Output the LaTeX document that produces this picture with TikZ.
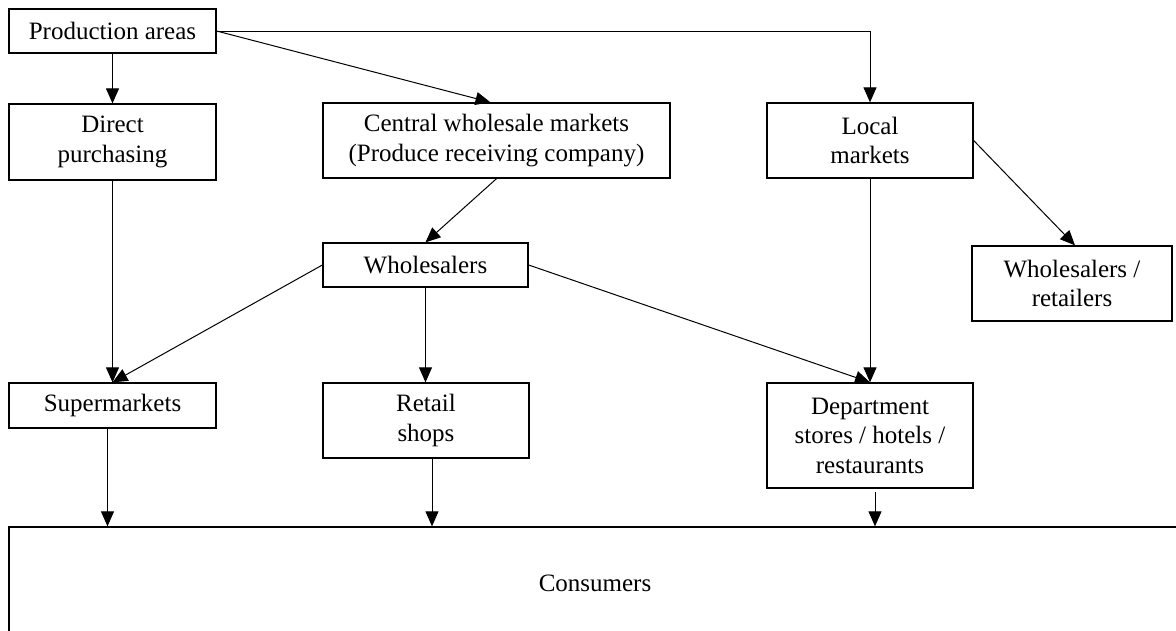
\documentclass[tikz,border=0pt]{standalone}
\usepackage{fontspec}
\setmainfont{Liberation Serif}
\usetikzlibrary{arrows.meta,calc}
\begin{document}
\begin{tikzpicture}[x=1pt,y=-1pt,
  box/.style={draw=black,line width=1.3pt,rectangle,inner sep=0pt,align=center,
    font=\fontsize{25}{29.5}\selectfont,anchor=center},
  arr/.style={draw=black,line width=1pt,-{Triangle[length=15pt,width=13pt]}}]
\path[use as bounding box,clip] (0,0) rectangle (1176,630);
\fill[white] (0,0) rectangle (1176,630);
% nodes
\node[box,minimum width=207pt,minimum height=44pt] (prod) at (112.5,31) {Production areas};
\node[box,minimum width=207pt,minimum height=76pt] (direct) at (112.5,142) {Direct\\purchasing};
\node[box,minimum width=347pt,minimum height=75pt] (central) at (496.5,140.5) {Central wholesale markets\\(Produce receiving company)};
\node[box,minimum width=206pt,minimum height=75pt] (local) at (870,140.5) {Local\\markets};
\node[box,minimum width=205pt,minimum height=44pt] (whole) at (425.5,265) {Wholesalers};
\node[box,minimum width=200pt,minimum height=75pt] (wr) at (1072,283.5) {Wholesalers /\\retailers};
\node[box,minimum width=207pt,minimum height=45pt] (super) at (112.5,405.5) {Supermarkets};
\node[box,minimum width=206pt,minimum height=75pt] (retail) at (426,420.5) {Retail\\shops};
\node[box,minimum width=206pt,minimum height=105pt] (dept) at (870,435.5) {Department\\stores / hotels /\\restaurants};
\node[box,minimum width=1172pt,minimum height=112pt] (cons) at (595,583) {Consumers};
% connectors
\draw[arr] (prod.south) -- (direct.north);
\draw[arr] (prod.east) -- ([xshift=-6pt]central.north);
\draw[arr] (prod.east) -| (local.north);
\draw[arr] (direct.south) -- (super.north);
\draw[arr] (central.south) -- (whole.north);
\draw[arr] (local.south) -- (dept.north);
\draw[arr] (local.east) -- ([xshift=3pt]wr.north);
\draw[arr] (whole.west) -- (super.north);
\draw[arr] (whole.south) -- (whole.south |- retail.north);
\draw[arr] (whole.east) -- (dept.north);
\draw[arr] ([xshift=-5pt]super.south) -- ([xshift=-5pt]super.south |- cons.north);
\draw[arr] ([xshift=6pt]retail.south) -- ([xshift=6pt]retail.south |- cons.north);
\draw[arr] ([xshift=5pt,yshift=-3pt]dept.south) -- ([xshift=5pt]dept.south |- cons.north);
\end{tikzpicture}
\end{document}
